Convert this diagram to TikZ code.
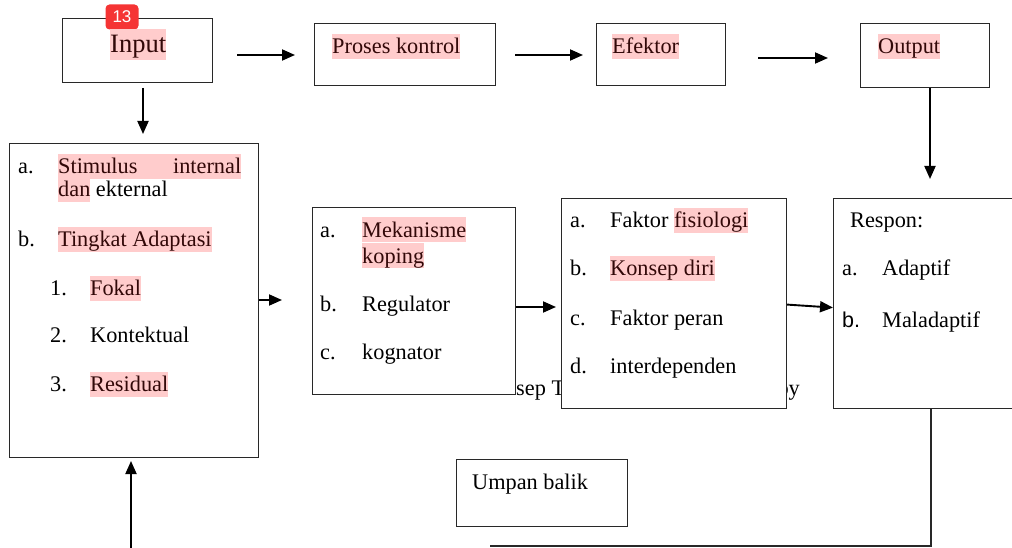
\documentclass[tikz,border=0pt]{standalone}
\usepackage{fontspec}
\setmainfont{Liberation Serif}
\newfontfamily\serf{Liberation Serif}
\newfontfamily\arialf{Liberation Sans}
\usetikzlibrary{arrows.meta}
\definecolor{hlpink}{RGB}{255,204,204}
\definecolor{badgered}{RGB}{245,52,52}
\definecolor{hltext}{RGB}{50,8,8}
\definecolor{boxline}{RGB}{40,40,40}
\newcommand{\hlbox}[1]{{\setlength{\fboxsep}{0pt}\colorbox{hlpink}{\rule[-5.5pt]{0pt}{25pt}\textcolor{hltext}{#1}}}}
\newcommand{\hlbig}[1]{{\setlength{\fboxsep}{0pt}\colorbox{hlpink}{\rule[-7pt]{0pt}{31pt}\textcolor{hltext}{#1}}}}
\begin{document}
\begin{tikzpicture}[x=1pt,y=-1pt,
  box/.style={draw=boxline,line width=1.2pt,fill=white,inner sep=0,anchor=north west},
  txt/.style={inner sep=0,anchor=base west,font=\serf\fontsize{22.3}{27}\selectfont},
  arr/.style={line width=1.9pt,-{Triangle[length=13pt,width=11pt]}}]
\useasboundingbox (0,0) rectangle (1012,548);
\clip (0,0) rectangle (1012,548);
\fill[white] (0,0) rectangle (1012,548);

% caption fragments (partly hidden)
\node[txt] (capa) at (516,395) {sep Teori};
\node[txt,anchor=base east] (capb) at (800,395) {Roy};

% top row boxes
\node[box,minimum width=150pt,minimum height=64pt] (in) at (62,18) {};
\node[box,minimum width=181pt,minimum height=62pt] (pk) at (314,23) {};
\node[box,minimum width=129pt,minimum height=62pt] (ef) at (596,23) {};
\node[box,minimum width=129pt,minimum height=64pt] (out) at (860,23) {};
% middle row boxes
\node[box,minimum width=249pt,minimum height=314pt] (L) at (9,143) {};
\node[box,minimum width=203pt,minimum height=187pt] (M) at (312,207) {};
\node[box,minimum width=225pt,minimum height=210pt] (F) at (561,198) {};
\node[box,minimum width=190pt,minimum height=210pt] (R) at (833,198) {};
\node[box,minimum width=171pt,minimum height=67pt] (U) at (456,459) {};

% badge
\node[fill=badgered,rounded corners=4pt,minimum width=33pt,minimum height=25pt,inner sep=0,text=white,font=\arialf\fontsize{17}{20}\selectfont] (badge) at (122,17) {13};

% texts top
\node[txt,font=\serf\fontsize{26.5}{31}\selectfont] (tin) at (110,53) {\hlbig{Input}};
\node[txt] (tpk) at (332,54) {\hlbox{Proses kontrol}};
\node[txt] (tef) at (612,54) {\hlbox{Efektor}};
\node[txt] (tout) at (878,54) {\hlbox{Output}};

% left box
\node[txt] (la) at (18,174) {a.};
\node[txt] (la1) at (58,174) {\hlbox{\hbox to 183pt{Stimulus\hfill internal}}};
\node[txt] (la2) at (58,197) {\hlbox{dan} ekternal};
\node[txt] (lb) at (18,247) {b.};
\node[txt] (lb1) at (58,247) {\hlbox{Tingkat Adaptasi}};
\node[txt] (l1) at (50,295) {1.};
\node[txt] (l1t) at (90,295) {\hlbox{Fokal}};
\node[txt] (l2) at (50,342) {2.};
\node[txt] (l2t) at (90,342) {Kontektual};
\node[txt] (l3) at (50,391) {3.};
\node[txt] (l3t) at (90,391) {\hlbox{Residual}};

% M box
\node[txt] (ma) at (320,237) {a.};
\node[txt] (ma1) at (362,237) {\hlbox{Mekanisme}};
\node[txt] (ma2) at (362,263) {\hlbox{koping}};
\node[txt] (mb) at (320,311) {b.};
\node[txt] (mb1) at (362,311) {Regulator};
\node[txt] (mc) at (320,359) {c.};
\node[txt] (mc1) at (362,359) {kognator};

% F box
\node[txt] (fa) at (570,228) {a.};
\node[txt] (fa1) at (610,228) {Faktor \hlbox{fisiologi}};
\node[txt] (fb) at (570,276) {b.};
\node[txt] (fb1) at (610,276) {\hlbox{Konsep diri}};
\node[txt] (fc) at (570,325) {c.};
\node[txt] (fc1) at (610,325) {Faktor peran};
\node[txt] (fd) at (570,373) {d.};
\node[txt] (fd1) at (610,373) {interdependen};

% R box
\node[txt] (rr) at (850,228) {Respon:};
\node[txt] (ra) at (842,276) {a.};
\node[txt] (ra1) at (882,276) {Adaptif};
\node[txt,font=\arialf\fontsize{21.5}{26}\selectfont] (rb) at (842,327) {b.};
\node[txt] (rb1) at (882,327) {Maladaptif};

% U box
\node[txt] (tu) at (472,489) {Umpan balik};

% arrows
\coordinate (a1s) at (237,55); \coordinate (a1e) at (295,55);
\coordinate (a2s) at (515,55); \coordinate (a2e) at (583,55);
\coordinate (a3s) at (758,58); \coordinate (a3e) at (828,58);
\coordinate (d1s) at (143,88); \coordinate (d1e) at (143,134);
\coordinate (d2s) at (930,88); \coordinate (d2e) at (930,179);
\coordinate (lme) at (282,300);
\coordinate (mfe) at (556,307);
\coordinate (fb2) at (931,546); \coordinate (fb3) at (490,546);
\coordinate (ups) at (131,550); \coordinate (upe) at (131,461);

\draw[arr] (a1s) -- (a1e);
\draw[arr] (a2s) -- (a2e);
\draw[arr] (a3s) -- (a3e);
\draw[arr] (d1s) -- (d1e);
\draw[arr] (d2s) -- (d2e);
\draw[arr] (L.east |- lme) -- (lme);
\draw[arr] (M.east |- mfe) -- (mfe);
\draw[arr] ([yshift=-1pt]F.east) -- ([yshift=-4pt]R.west);
\draw[line width=1.1pt,draw=boxline] (R.south -| fb2) -- (fb2) -- (fb3);
\draw[arr] (ups) -- (upe);
\end{tikzpicture}
\end{document}
